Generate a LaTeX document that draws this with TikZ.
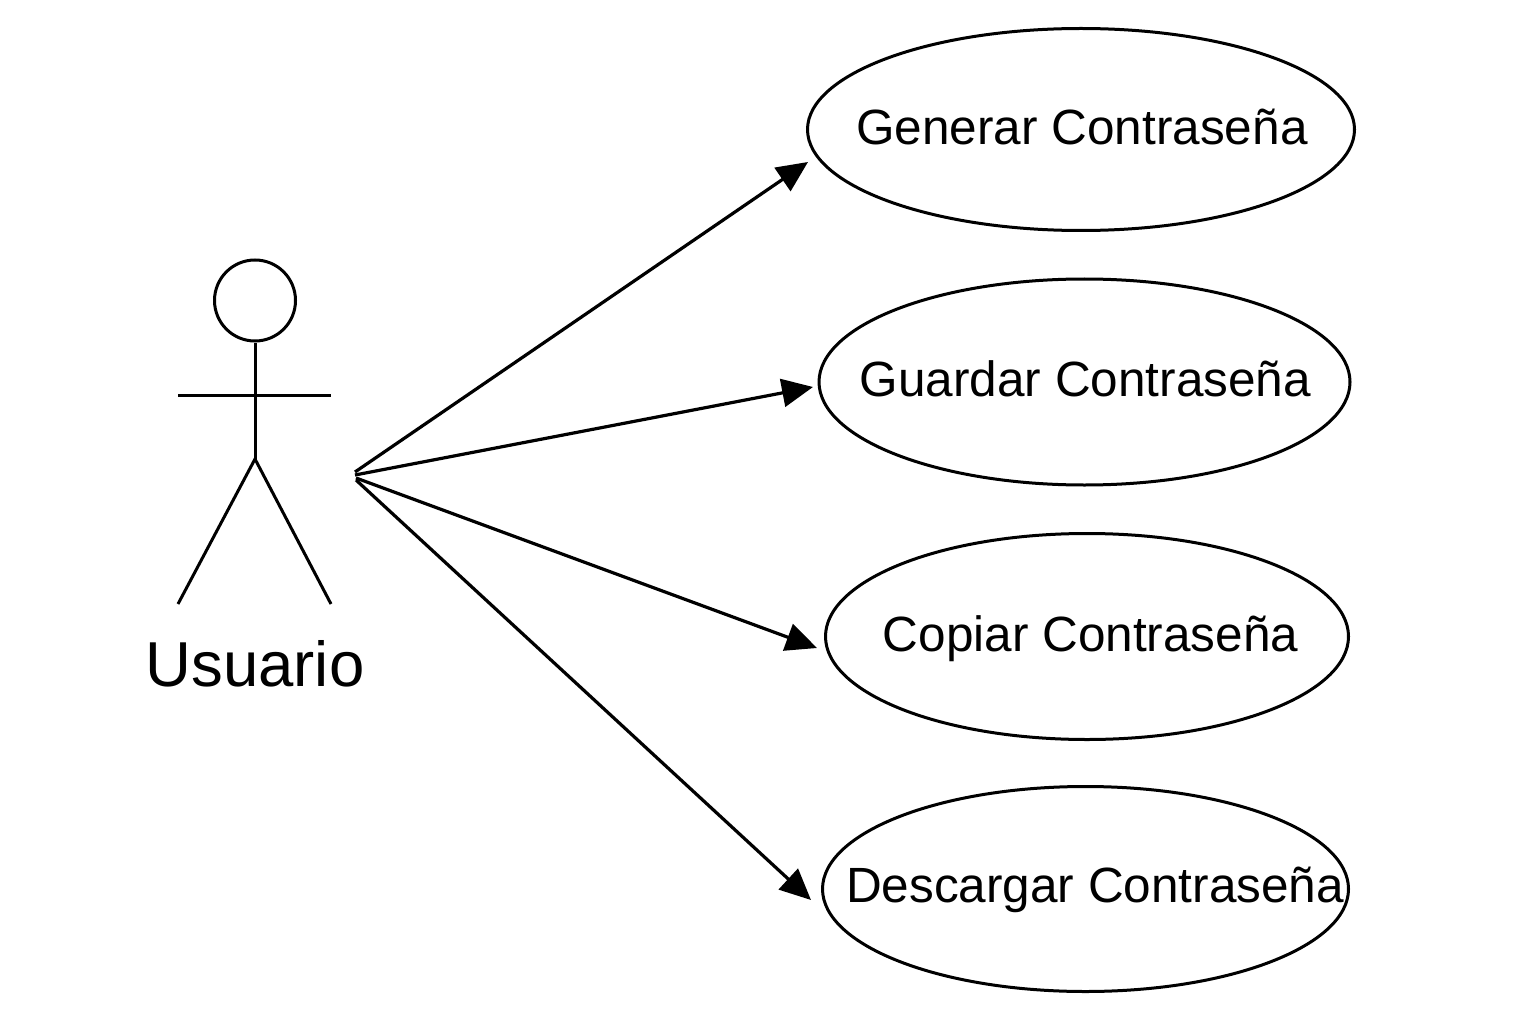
\documentclass[tikz,border=0pt]{standalone}
\usepackage{fontspec}
\setmainfont{Liberation Sans}
\usetikzlibrary{shapes.geometric,arrows.meta}
\begin{document}
\begin{tikzpicture}[x=1pt,y=-1pt,
  usecase/.style={draw=black,line width=3pt,ellipse,inner sep=0pt,minimum width=#1},
  label/.style={font=\fontsize{49.5}{58}\selectfont,inner sep=0pt,anchor=base},
  limb/.style={draw=black,line width=3pt},
  link/.style={draw=black,line width=3.2pt,-{Triangle[length=31pt,width=28pt]}}]
\useasboundingbox (0,0) rectangle (1536,1024);
\node[usecase=547pt,minimum height=202pt] (g) at (1081,129.5) {};
\node[usecase=531pt,minimum height=206pt] (s) at (1084.5,382) {};
\node[usecase=523pt,minimum height=206pt] (c) at (1087,636.5) {};
\node[usecase=526pt,minimum height=205pt] (d) at (1085.5,889) {};
\node[label] (gt) at (1082,145) {Generar Contraseña};
\node[label] (st) at (1085.5,396) {Guardar Contraseña};
\node[label] (ct) at (1090.5,651) {Copiar Contraseña};
\node[label] (dt) at (1095,902) {Descargar Contraseña};
\node[draw=black,line width=3pt,circle,minimum size=81pt,inner sep=0pt] (head) at (255,300.5) {};
\coordinate (hip) at (255,459);
\coordinate (al) at (178,395);
\coordinate (ar) at (331,395);
\coordinate (fl) at (178,604);
\coordinate (fr) at (331,604);
\draw[limb] (head.south) -- (hip);
\draw[limb] (al) -- (ar);
\draw[limb] (fl) -- (hip) -- (fr);
\node[inner sep=0pt,font=\fontsize{63.5}{70}\selectfont] (u) at (255,664) {Usuario};
\coordinate (o1) at (355,472);
\coordinate (o2) at (355,475);
\coordinate (o3) at (356,478);
\coordinate (o4) at (356,480);
\coordinate (t1) at (808,162);
\coordinate (t2) at (813,387);
\coordinate (t3) at (817,648);
\coordinate (t4) at (811,900);
\draw[link] (o1) -- (t1);
\draw[link] (o2) -- (t2);
\draw[link] (o3) -- (t3);
\draw[link] (o4) -- (t4);
\end{tikzpicture}
\end{document}
